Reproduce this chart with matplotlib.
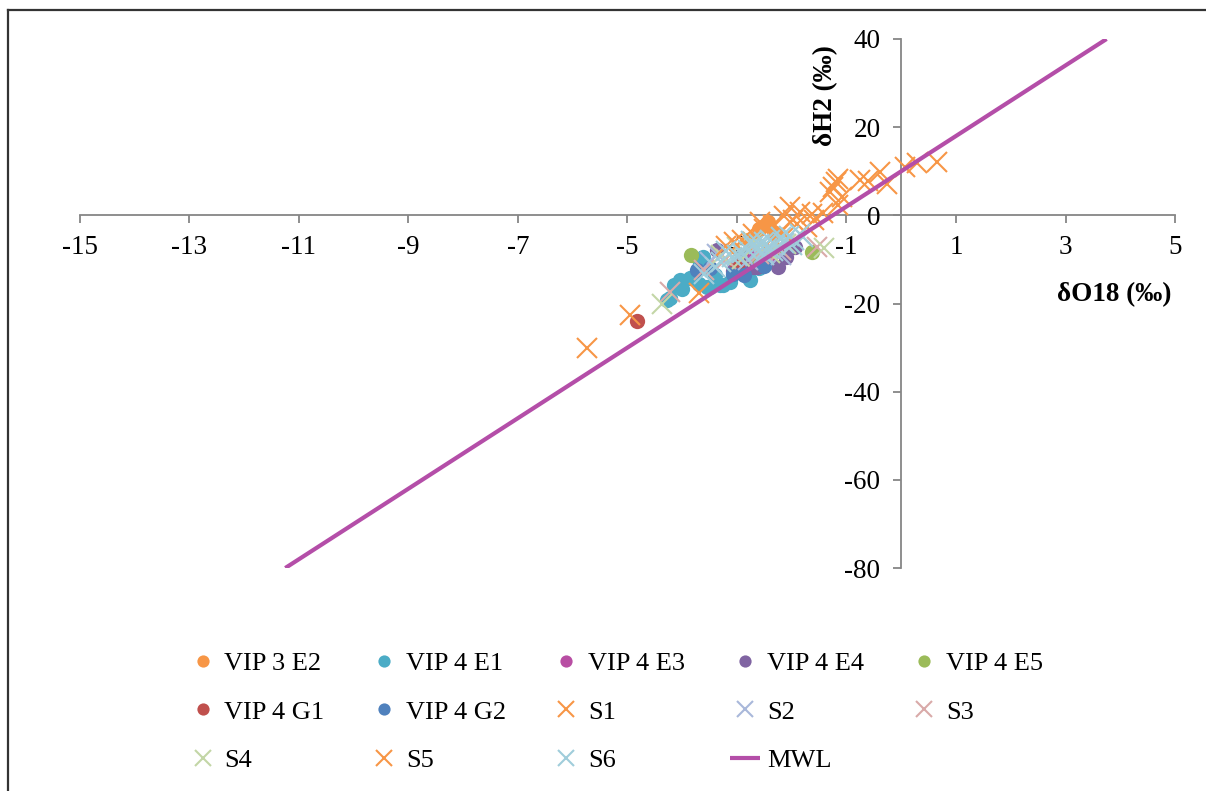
import matplotlib.pyplot as plt
from matplotlib.lines import Line2D

plt.rcParams['font.family'] = ['Liberation Serif', 'DejaVu Serif']
plt.rcParams['axes.unicode_minus'] = False

# Veriler (δO18, δH2) - grafikten okunan tahmini değerler
e2_x = [-2.43, -2.6, -2.3, -2.8]
e2_y = [-1.5, -3.0, -4.0, -5.5]
e1_x = [-4.27, -4.22, -4.0, -4.04, -3.85, -3.8, -4.15, -3.67, -3.62, -3.55, -3.49, -3.31, -3.25, -3.12, -2.79, -2.76, -3.0, -3.4, -2.6, -3.7]
e1_y = [-19.3, -18.8, -16.6, -14.7, -14.3, -14.0, -15.8, -10.9, -9.5, -16.3, -16.3, -15.9, -15.9, -15.2, -14.1, -14.7, -12.8, -13.5, -12.0, -15.5]
e3_x = [-2.7, -2.4, -2.1, -2.9]
e3_y = [-9.5, -9.0, -7.5, -10.8]
e4_x = [-2.25, -1.97, -2.63, -3.07, -2.9, -2.1, -3.37, -1.94, -2.7]
e4_y = [-11.7, -7.2, -11.7, -12.6, -10.5, -9.5, -7.9, -7.2, -11.8]
e5_x = [-3.84, -1.63, -2.6, -2.3]
e5_y = [-9.1, -8.4, -10.0, -8.0]
g1_x = [-4.82, -3.0]
g1_y = [-24.0, -11.0]
g2_x = [-3.73, -2.88, -3.07, -3.5, -2.5]
g2_y = [-12.5, -13.6, -13.2, -12.0, -11.5]

s1_x = [0.65, 0.29, 0.07, -0.26, -0.38, -0.6, -0.75, -1.15, -1.2, -1.24, -1.3, -1.08, -1.15, -1.42, -1.63, -1.84, -2.03,
        -1.97, -1.72, -2.34, -2.58, -1.6, -2.15]
s1_y = [12.1, 11.9, 11.0, 7.2, 9.8, 7.9, 8.1, 8.3, 7.6, 6.4, 5.3, 4.2, 2.3, 0.5, 0.4, 0.8, 1.9,
        -1.1, -2.7, -2.3, -1.5, -1.0, -0.2]
s2_x = [-3.37, -3.5, -3.0, -2.8, -2.5, -2.2]
s2_y = [-8.7, -10.5, -9.2, -10.2, -8.5, -9.0]
s3_x = [-4.22, -1.54, -3.61, -3.2, -2.6, -2.2]
s3_y = [-17.4, -7.2, -12.5, -10.0, -8.8, -7.8]
s4_x = [-4.37, -1.41, -3.0, -2.7, -2.4, -3.3, -2.1, -2.9]
s4_y = [-20.2, -7.5, -7.2, -6.0, -8.6, -9.0, -6.5, -10.0]
s5_x = [-5.74, -4.95, -3.69, -2.9, -2.7, -2.2, -3.2, -2.5, -1.9, -3.05, -2.35]
s5_y = [-30.2, -22.5, -17.7, -5.5, -4.2, -3.5, -7.0, -3.0, -2.0, -6.0, -5.2]
s6_x = [-3.4, -3.6, -3.3, -3.1, -3.0, -2.9, -2.8, -2.7, -2.6, -2.5, -2.45, -2.4, -2.3, -2.2, -2.15,
        -2.05, -1.95, -1.85, -2.6, -2.75, -2.35, -2.0, -3.2, -2.5, -1.8]
s6_y = [-11.7, -13.2, -10.5, -9.5, -9.0, -8.5, -7.8, -7.0, -6.5, -6.0, -7.5, -5.5, -6.8, -5.0, -6.2,
        -4.8, -5.5, -4.3, -8.2, -5.8, -8.0, -6.8, -8.2, -9.0, -5.0]

mwl_x = [-11.25, 3.75]
mwl_y = [-80, 40]

fig = plt.figure(figsize=(12.06, 7.91), dpi=100)
ax = fig.add_axes([0.0663, 0.2819, 0.908, 0.6688])

dots = [(e2_x, e2_y, '#F79646', 'VIP 3 E2'), (e1_x, e1_y, '#4BACC6', 'VIP 4 E1'),
        (e3_x, e3_y, '#B84EA3', 'VIP 4 E3'), (e4_x, e4_y, '#8064A2', 'VIP 4 E4'),
        (e5_x, e5_y, '#9BBB59', 'VIP 4 E5'), (g1_x, g1_y, '#C0504D', 'VIP 4 G1'),
        (g2_x, g2_y, '#4F81BD', 'VIP 4 G2')]
for x, y, c, lab in dots:
    ax.plot(x, y, 'o', color=c, markersize=11, markeredgewidth=0, label=lab, linestyle='none')

crosses = [(s1_x, s1_y, '#F79646', 'S1'), (s2_x, s2_y, '#A9B8DA', 'S2'),
           (s3_x, s3_y, '#D9AAA9', 'S3'), (s4_x, s4_y, '#C3D6A6', 'S4'),
           (s5_x, s5_y, '#F79646', 'S5'), (s6_x, s6_y, '#A0CDDB', 'S6')]
for x, y, c, lab in crosses:
    ax.plot(x, y, 'x', color=c, markersize=14, markeredgewidth=1.5, label=lab, linestyle='none')

ax.plot(mwl_x, mwl_y, color='#B44EA8', linewidth=3, label='MWL', solid_capstyle='butt')

ax.set_xlim(-15, 5)
ax.set_ylim(-80, 40)
ax.set_xticks(range(-15, 6, 2))
ax.set_yticks(range(-80, 41, 20))

ax.spines['left'].set_position(('data', 0))
ax.spines['bottom'].set_position(('data', 0))
ax.spines['top'].set_visible(False)
ax.spines['right'].set_visible(False)
for s in ['left', 'bottom']:
    ax.spines[s].set_color('#868686')
    ax.spines[s].set_linewidth(1.3)
    ax.spines[s].set_zorder(0.5)

ax.tick_params(axis='x', direction='out', length=6, width=1.3, color='#868686', labelsize=19.5, pad=8)
ax.tick_params(axis='y', direction='out', length=6, width=1.3, color='#868686', labelsize=19.5, pad=9)

ax.text(0.997, 0.516, 'δO18 (‰)', transform=ax.transAxes, ha='right', va='center',
        fontsize=19.5, fontweight='bold')
ax.text(0.681, 0.894, 'δH2 (‰)', transform=ax.transAxes, ha='center', va='center',
        rotation=90, fontsize=19.5, fontweight='bold')

# Legend sırası (satır bazlı)
h, l = ax.get_legend_handles_labels()
order = [0, 5, 10, 1, 6, 11, 2, 7, 12, 3, 8, 13, 4, 9]
ax.legend([h[i] for i in order], [l[i] for i in order], ncol=5, frameon=False,
          loc='center', bbox_to_anchor=(0.51, 0.0999), bbox_transform=fig.transFigure,
          fontsize=19, markerscale=0.8, handlelength=1.15, handletextpad=0.25,
          columnspacing=1.7, labelspacing=0.95, borderaxespad=0)

# dış çerçeve
fig.add_artist(Line2D([0.0066, 1.0], [0.9874, 0.9874], transform=fig.transFigure, color='#333333', linewidth=1.6))
fig.add_artist(Line2D([0.0066, 0.0066], [0.0, 0.9874], transform=fig.transFigure, color='#333333', linewidth=1.6))

fig.savefig('out.png', dpi=100)
